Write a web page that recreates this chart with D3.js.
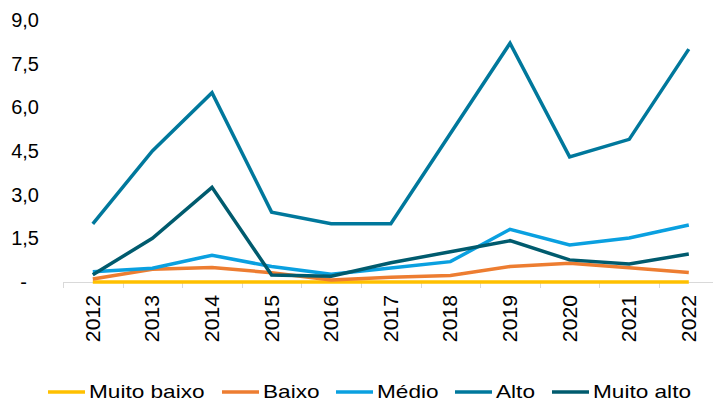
<!DOCTYPE html>
<html><head><meta charset="utf-8">
<script src="https://cdn.jsdelivr.net/npm/d3@7"></script>
<style>body{margin:0;background:#fff}svg{display:block}text{font-family:"Liberation Sans",Arial,sans-serif;fill:#000}</style>
</head><body><svg id="c" width="713" height="403"></svg>
<script>
const years = ["2012","2013","2014","2015","2016","2017","2018","2019","2020","2021","2022"];
const seriesNames = ["Muito baixo","Baixo","Médio","Alto","Muito alto"];
const muitoBaixo = [0,0,0,0,0,0,0,0,0,0,0];
const baixo = [0.1,0.44,0.5,0.32,0.07,0.16,0.22,0.53,0.64,0.49,0.33];
const medio = [0.35,0.47,0.92,0.53,0.27,0.48,0.7,1.81,1.27,1.51,1.96];
const alto = [2.0,4.5,6.5,2.4,2.0,2.0,5.1,8.2,4.3,4.9,8.0];
const muitoAlto = [0.25,1.5,3.25,0.24,0.2,0.66,1.04,1.42,0.76,0.62,0.96];
const yTicks = [0,1.5,3,4.5,6,7.5,9];
const colors = ["#FFC000","#ED7D31","#0AA0E0","#00789C","#005B6E"];

const seriesValues = [muitoBaixo, baixo, medio, alto, muitoAlto];
const svg = d3.select("#c");
const x = d3.scaleBand().domain(years).range([63, 718.6]).padding(0);
const y = d3.scaleLinear().domain([0, 9]).range([282, 20]);

// y axis labels
const fmt = v => v === 0 ? "-" : d3.format(".1f")(v).replace(".", ",");
svg.append("g").selectAll("text").data(yTicks).join("text")
  .attr("x", d => d === 0 ? 27 : 39)
  .attr("y", d => y(d))
  .attr("dy", "0.35em")
  .attr("text-anchor", "end")
  .attr("font-size", 20)
  .text(fmt);

// x axis line and ticks
const ax = svg.append("g");
ax.append("line").attr("x1", 63).attr("x2", 713).attr("y1", y(0)+0.5).attr("y2", y(0)+0.5)
  .attr("stroke", "#d9d9d9").attr("stroke-width", 1);
ax.selectAll("line.t").data(years).join("line").attr("class","t")
  .attr("x1", d => Math.round(x(d))+0.5).attr("x2", d => Math.round(x(d))+0.5)
  .attr("y1", y(0)).attr("y2", y(0)+6)
  .attr("stroke", "#d9d9d9").attr("stroke-width", 1);
ax.selectAll("text").data(years).join("text")
  .attr("transform", d => `translate(${x(d)+x.bandwidth()/2},295) rotate(-90) scale(1.06,1)`)
  .attr("dy", "0.35em")
  .attr("text-anchor", "end")
  .attr("font-size", 20)
  .text(d => d);

// lines
const line = d3.line().x((d,i) => x(years[i]) + x.bandwidth()/2).y(d => y(d));
svg.append("g").selectAll("path").data(seriesValues).join("path")
  .attr("d", d => line(d))
  .attr("fill", "none")
  .attr("stroke", (d,i) => colors[i])
  .attr("stroke-width", 3.5)
  .attr("stroke-linejoin", "miter");

// legend
const legX = [48, 222, 336, 455, 552];
const lg = svg.append("g").selectAll("g").data(seriesNames).join("g")
  .attr("transform", (d,i) => `translate(${legX[i]},392)`);
lg.append("line").attr("x1", 0).attr("x2", 37).attr("y1", 0).attr("y2", 0)
  .attr("stroke", (d,i) => colors[i]).attr("stroke-width", 3.5);
lg.append("text").attr("transform", "translate(41,0) scale(1.19,1)")
  .attr("dy", "0.33em").attr("font-size", 19).text(d => d);
</script></body></html>
